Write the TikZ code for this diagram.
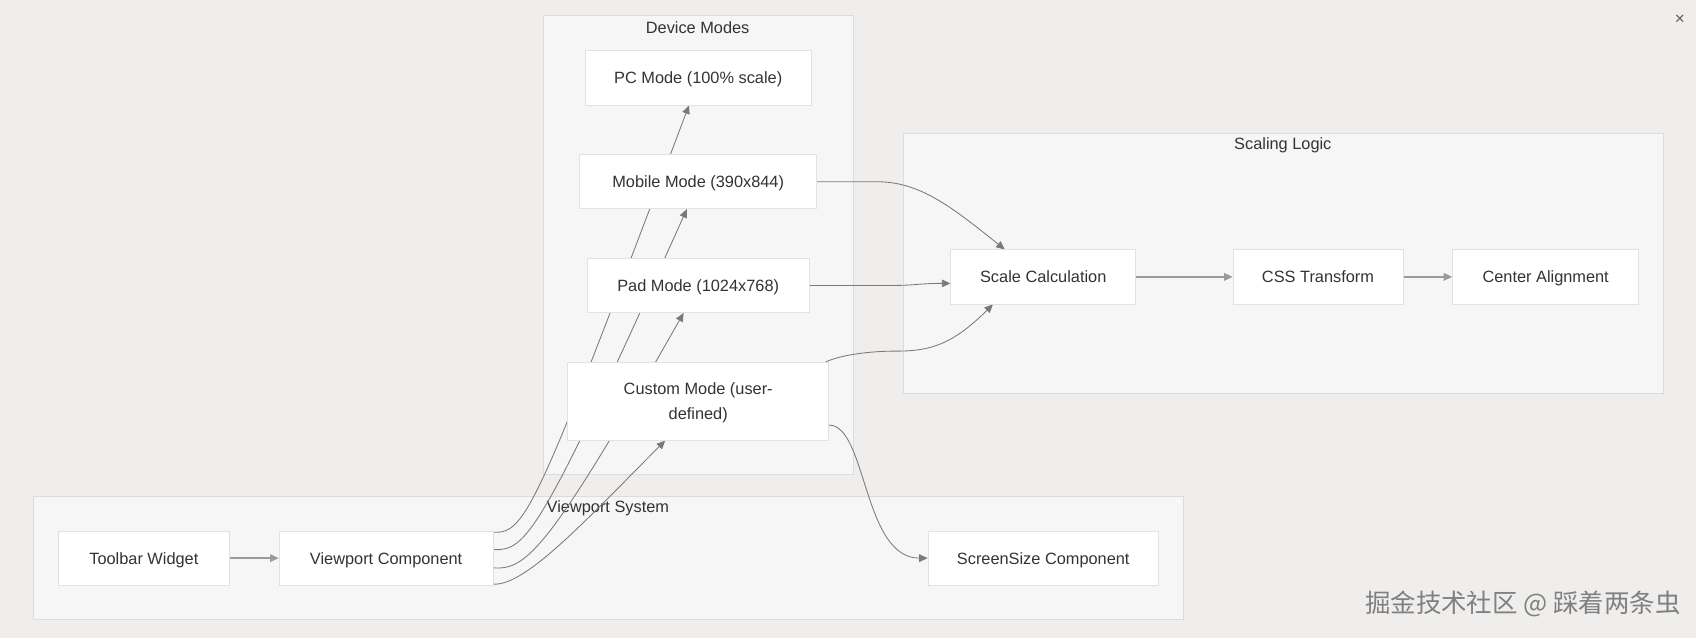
\documentclass[tikz,border=0pt]{standalone}
\usepackage{fontspec}
\setmainfont{Liberation Sans}
\newfontfamily\cjk{Noto Sans CJK SC}
\usetikzlibrary{arrows.meta, calc, positioning}

\definecolor{bgcol}{HTML}{EFEEED}
\definecolor{clfill}{HTML}{F6F6F6}
\definecolor{clline}{HTML}{DCDCDC}
\definecolor{boxline}{HTML}{E2E2E2}
\definecolor{flowcol}{HTML}{9A9A9A}
\definecolor{wirecol}{HTML}{7A7A7A}
\definecolor{txt}{HTML}{333333}

\pgfdeclarelayer{bg}
\pgfdeclarelayer{edges}
\pgfsetlayers{bg,edges,main}

\def\px{0.2mm} % one unit of the grid

\begin{document}
\begin{tikzpicture}[x=0.2mm, y=-0.2mm,
    box/.style={draw=boxline, fill=white, text=txt, minimum height=50*\px, inner sep=2pt, align=center, text height=7.4pt, text depth=1pt, font=\fontsize{8.6}{13}\selectfont},
    cluster/.style={draw=clline, fill=clfill, line width=0.5pt},
    ctitle/.style={text=txt, font=\fontsize{8.6}{13}\selectfont},
    flow/.style={draw=flowcol, line width=0.7pt, -{Triangle[length=4.5pt,width=4pt]}},
    wire/.style={draw=wirecol, line width=0.45pt, -{Triangle[length=4.5pt,width=4pt]}}
]
\useasboundingbox (0,0) rectangle (1568,590);

% groups
\begin{pgfonlayer}{bg}
  \fill[bgcol] (0,0) rectangle (1568,590);
  \draw[cluster] (502,14) rectangle (789,439);
  \node[ctitle] (devt) at (645,26) {Device Modes};
  \draw[cluster] (835,123) rectangle (1538,364);
  \node[ctitle] (sclt) at (1186,134) {Scaling Logic};
  \draw[cluster] (31,459) rectangle (1094,573);
  \node[ctitle] (vpst) at (562,470) {Viewport System};
\end{pgfonlayer}

% device modes
\node[box, minimum width=209*\px] (pc) at (645.5,72) {PC Mode (100\% scale)};
\node[box, minimum width=219*\px] (mob) at (645.5,168) {Mobile Mode (390x844)};
\node[box, minimum width=205*\px] (pad) at (645.5,264) {Pad Mode (1024x768)};
\node[box, minimum width=241*\px, minimum height=72*\px, text height=20pt] (cus) at (645.5,371) {Custom Mode (user-\\defined)};

% scaling logic
\node[box, minimum width=171*\px] (sc) at (964.5,256) {Scale Calculation};
\node[box, minimum width=157*\px] (css) at (1218.5,256) {CSS Transform};
\node[box, minimum width=172*\px] (ctr) at (1429,256) {Center Alignment};

% viewport system
\node[box, minimum width=158*\px] (tb) at (133,516) {Toolbar Widget};
\node[box, minimum width=198*\px] (vp) at (357,516) {Viewport Component};
\node[box, minimum width=213*\px] (ss) at (964.5,516) {ScreenSize Component};

\node[text=black!50, font=\cjk\fontsize{13.4}{14}\selectfont] (wm) at (1408,558) {掘金技术社区 @ 踩着两条虫};
\node[text=txt!80, font=\fontsize{9}{10}\selectfont] (close) at (1553,18) {×};

\begin{pgfonlayer}{edges}
  \draw[flow] (tb) -- (vp);
  \draw[flow] (sc) -- (css);
  \draw[flow] (css) -- (ctr);
  % fan out of the viewport
  \foreach \dy/\tgt/\dx/\cx/\cy in {-24/pc/-8.5/-140/370, -8/mob/-10.5/-135/300, 9/pad/-13.5/-125/220, 24/cus/-30.5/-70/70}
  {
    \draw[wire] ($(vp.east)+(0,\dy)$) .. controls +(30,2) and +(\cx,\cy) .. ($(\tgt.south)+(\dx,0)$);
  }
  \draw[wire] (mob.east) -- ++(55,0) .. controls +(40,0) and +(-50,-40) .. ($(sc.north)+(-35.5,0)$);
  \draw[wire] (pad.east) -- ++(70,0) .. controls +(30,0) and +(-30,0) .. ($(sc.west)+(0,6)$);
  \draw[wire] ($(cus.north east)+(-3,0)$) .. controls +(15,-7) and +(-20,0) .. ($(cus.north east)+(60,-10)$)
    .. controls +(30,0) and +(-40,40) .. ($(sc.south)+(-46.5,0)$);
  \draw[wire] ($(cus.east)+(0,22)$) .. controls +(35,0) and +(-60,0) .. (ss.west);
\end{pgfonlayer}
\end{tikzpicture}
\end{document}
